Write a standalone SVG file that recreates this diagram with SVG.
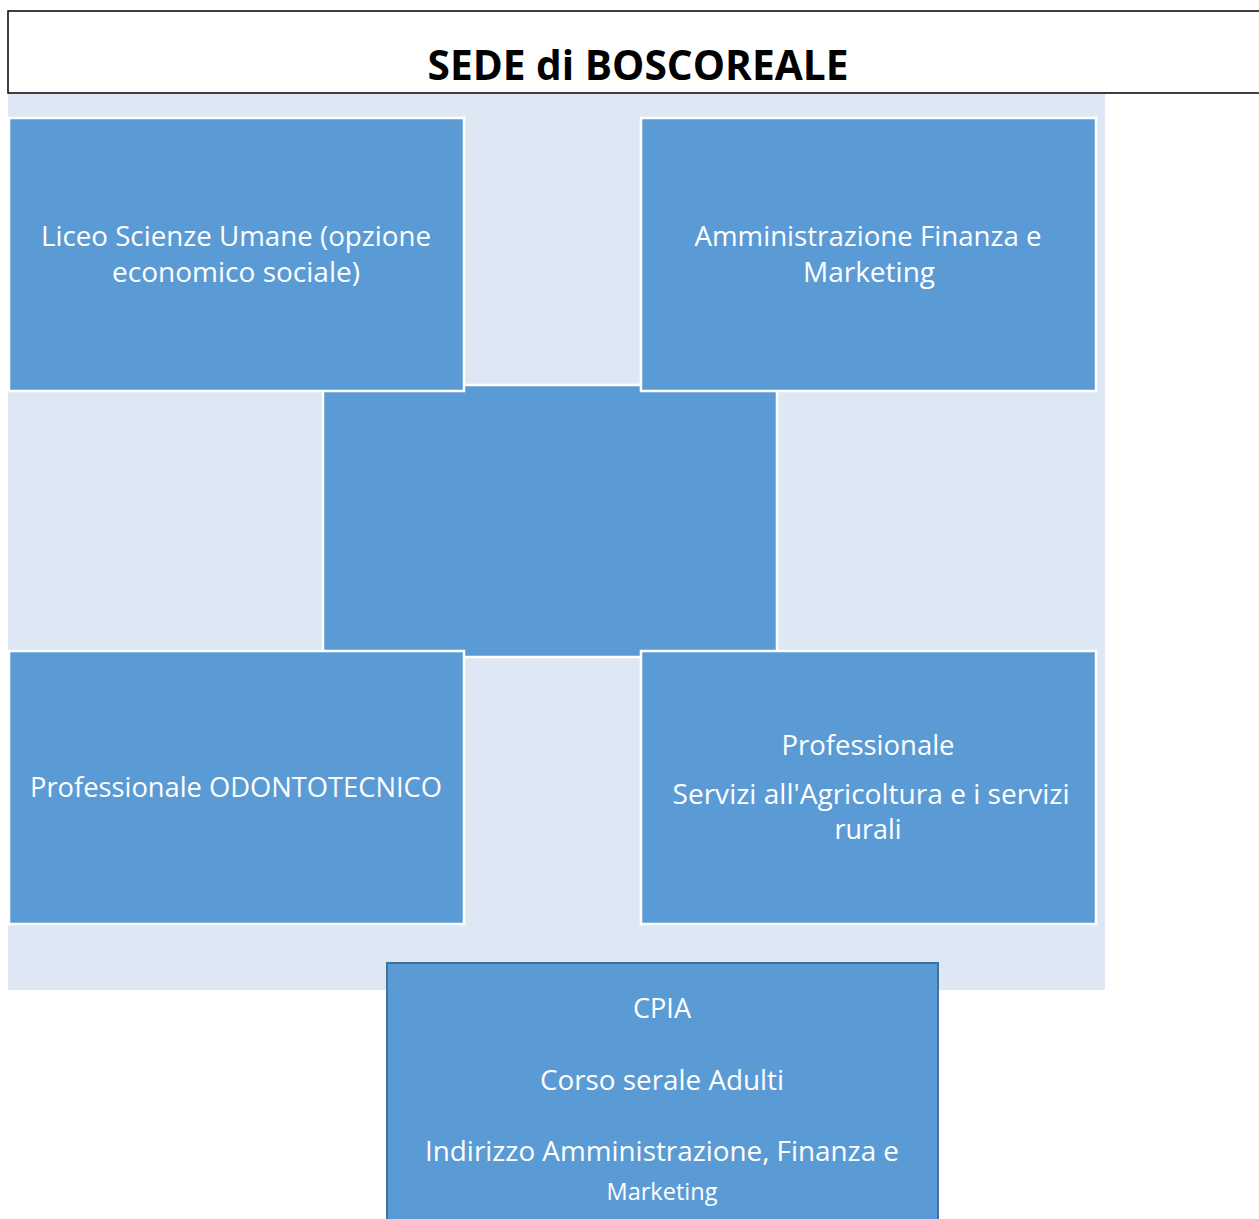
<svg xmlns="http://www.w3.org/2000/svg" width="1259" height="1219" viewBox="0 0 1259 1219">
<style>
.box{fill:#5B9BD5;stroke:#FFFFFF;stroke-width:2.5}
.t{font-family:"Open Sans","Noto Sans","Liberation Sans",sans-serif;font-size:27.5px;fill:#FFFFFF;text-anchor:middle}
.title{font-family:"Open Sans","Liberation Sans",sans-serif;font-weight:bold;font-size:41px;fill:#000000;text-anchor:middle}
</style>
<rect x="0" y="0" width="1259" height="1219" fill="#FFFFFF"/>
<g id="title">
<rect x="8" y="11" width="1260" height="82" fill="#FFFFFF" stroke="#000000" stroke-width="1.5"/>
<text class="title" x="638" y="80" textLength="421" lengthAdjust="spacingAndGlyphs">SEDE di BOSCOREALE</text>
</g>
<rect id="background" x="8" y="94" width="1097" height="896" fill="#DEE8F4"/>
<g id="center"><rect class="box" x="323" y="385" width="454" height="272"/></g>
<g id="liceo">
<rect class="box" x="9" y="118" width="455" height="273"/>
<text class="t" x="236" y="246" textLength="390" lengthAdjust="spacingAndGlyphs">Liceo Scienze Umane (opzione</text>
<text class="t" x="236" y="282" textLength="248" lengthAdjust="spacingAndGlyphs">economico sociale)</text>
</g>
<g id="afm">
<rect class="box" x="641" y="118" width="455" height="273"/>
<text class="t" x="868" y="246" textLength="347" lengthAdjust="spacingAndGlyphs">Amministrazione Finanza e</text>
<text class="t" x="869" y="282" textLength="132" lengthAdjust="spacingAndGlyphs">Marketing</text>
</g>
<g id="odonto">
<rect class="box" x="9" y="651" width="455" height="273"/>
<text class="t" x="236" y="797" textLength="412" lengthAdjust="spacingAndGlyphs">Professionale ODONTOTECNICO</text>
</g>
<g id="agricoltura">
<rect class="box" x="641" y="651" width="455" height="273"/>
<text class="t" x="868" y="755" textLength="173" lengthAdjust="spacingAndGlyphs">Professionale</text>
<text class="t" x="871" y="804" textLength="397" lengthAdjust="spacingAndGlyphs">Servizi all'Agricoltura e i servizi</text>
<text class="t" x="868" y="839" textLength="67" lengthAdjust="spacingAndGlyphs">rurali</text>
</g>
<g id="cpia">
<rect x="387" y="963" width="551" height="270" fill="#5B9BD5" stroke="#41719C" stroke-width="2"/>
<text class="t" x="662" y="1018" textLength="58" lengthAdjust="spacingAndGlyphs">CPIA</text>
<text class="t" x="662" y="1090" textLength="244" lengthAdjust="spacingAndGlyphs">Corso serale Adulti</text>
<text class="t" x="662" y="1161" textLength="474" lengthAdjust="spacingAndGlyphs">Indirizzo Amministrazione, Finanza e</text>
<text class="t" x="662" y="1200" style="font-size:23px" textLength="111" lengthAdjust="spacingAndGlyphs">Marketing</text>
</g>
<g id="connectors"/>
</svg>
